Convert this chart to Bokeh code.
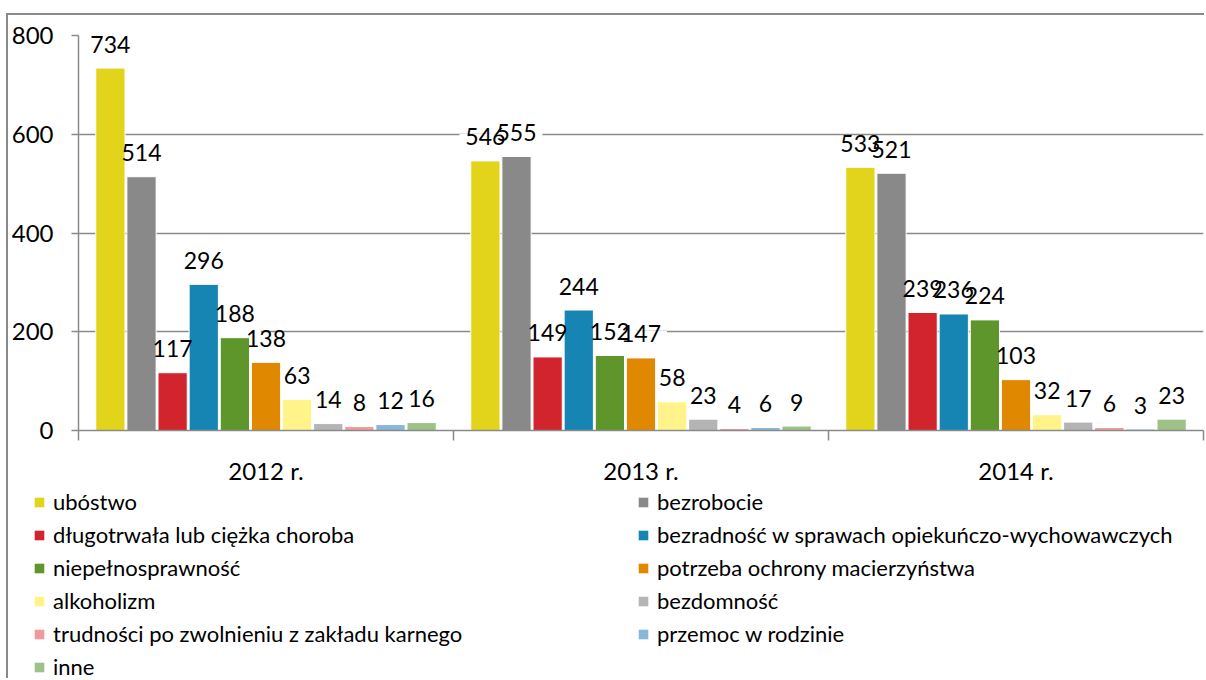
from bokeh.plotting import figure
from bokeh.layouts import column
from bokeh.models import (Range1d, FixedTicker, Legend, LegendItem, ColumnDataSource,
                          LabelSet)
from bokeh.core.properties import value
from bokeh.embed import file_html
from bokeh.resources import INLINE

# ---------------- data ----------------
years = ["2012 r.", "2013 r.", "2014 r."]
categories = [
    "ubóstwo",
    "bezrobocie",
    "długotrwała lub ciężka choroba",
    "bezradność w sprawach opiekuńczo-wychowawczych",
    "niepełnosprawność",
    "potrzeba ochrony macierzyństwa",
    "alkoholizm",
    "bezdomność",
    "trudności po zwolnieniu z zakładu karnego",
    "przemoc w rodzinie",
    "inne",
]
colors = ["#E1D41A", "#898989", "#D2242D", "#1785B4", "#5F962B", "#E08800",
          "#FFF38A", "#B4B4B4", "#F19A9C", "#88B7D9", "#9DC186"]
values_2012 = [734, 514, 117, 296, 188, 138, 63, 14, 8, 12, 16]
values_2013 = [546, 555, 149, 244, 152, 147, 58, 23, 4, 6, 9]
values_2014 = [533, 521, 239, 236, 224, 103, 32, 17, 6, 3, 23]
values_by_year = [values_2012, values_2013, values_2014]
y_ticks = [0, 200, 400, 600, 800]

# ---------------- style ----------------
FONT = "Lato"
FS = "24px"
LBL_FS = "23px"
LEG_FS = "22px"
GRID = "#8A8A8A"
PITCH = 0.083
BAR_W = 0.078
W = 1198
LABEL_OFF = 24      # text glyph offset (px)
BOX_OFF = 4         # label-box offset (px)

p = figure(width=W, height=472, output_backend="svg", toolbar_location=None,
           x_range=Range1d(0, 3), y_range=Range1d(0, 800),
           min_border_left=69, min_border_right=3, min_border_top=20,
           min_border_bottom=50, outline_line_color=None,
           background_fill_color="white", border_fill_color="white",
           frame_align=False)

# grid
p.xgrid.visible = False
p.ygrid.ticker = FixedTicker(ticks=y_ticks)
p.ygrid.grid_line_color = GRID
p.ygrid.grid_line_width = 1.5
p.ygrid.level = "image"

# y axis
p.yaxis.ticker = FixedTicker(ticks=y_ticks)
p.yaxis.axis_line_color = GRID
p.yaxis.axis_line_width = 1.5
p.yaxis.major_tick_line_color = GRID
p.yaxis.major_tick_line_width = 1.5
p.yaxis.major_tick_out = 7
p.yaxis.major_tick_in = 0
p.yaxis.minor_tick_line_color = None
p.yaxis.major_label_standoff = 18
p.yaxis.major_label_text_font = FONT
p.yaxis.major_label_text_font_size = FS
p.yaxis.major_label_text_color = "black"

# x axis: labels at group centres, ticks at group boundaries
p.xaxis.ticker = FixedTicker(ticks=[i + 0.5 for i in range(len(years))],
                             minor_ticks=list(range(len(years) + 1)))
p.xaxis.major_label_overrides = {i + 0.5: y for i, y in enumerate(years)}
p.xaxis.axis_line_color = GRID
p.xaxis.axis_line_width = 1.5
p.xaxis.major_tick_line_color = None
p.xaxis.major_tick_out = 0
p.xaxis.major_tick_in = 0
p.xaxis.minor_tick_line_color = GRID
p.xaxis.minor_tick_line_width = 1.5
p.xaxis.minor_tick_out = 10
p.xaxis.minor_tick_in = 0
p.xaxis.major_label_standoff = 15
p.xaxis.major_label_text_font = FONT
p.xaxis.major_label_text_font_size = FS
p.xaxis.major_label_text_color = "black"

# label source
lx, ly, lt, lpad = [], [], [], []
for i, vals in enumerate(values_by_year):
    for j, v in enumerate(vals):
        lx.append(i + 0.5 + (j - (len(vals) - 1) / 2) * PITCH)
        ly.append(v)
        lt.append(str(v))
        lpad.append(" " + str(v) + " ")
lsrc = ColumnDataSource(dict(x=lx, y=ly, t=lt, tp=lpad))

# white label boxes beneath the bars (they interrupt gridlines like the original)
p.add_layout(LabelSet(x="x", y="y", text="tp", source=lsrc, level="underlay",
                      text_align="center", text_baseline="alphabetic",
                      y_offset=BOX_OFF, text_color="white",
                      text_font=value(FONT), text_font_size=LBL_FS,
                      background_fill_color="white"))

# bars
for j, cat in enumerate(categories):
    xs = [i + 0.5 + (j - (len(categories) - 1) / 2) * PITCH for i in range(len(years))]
    tops = [vals[j] for vals in values_by_year]
    p.vbar(x=xs, top=tops, width=BAR_W, bottom=0, fill_color=colors[j],
           line_color="white", line_width=1)

# data labels
p.text(x="x", y="y", text="t", source=lsrc, text_align="center",
       text_baseline="alphabetic", y_offset=-LABEL_OFF, text_color="black",
       text_font=value(FONT), text_font_size=LBL_FS)

# ---------------- legend panel ----------------
pl = figure(width=W, height=193, output_backend="svg", toolbar_location=None,
            x_range=Range1d(0, 1), y_range=Range1d(0, 1), min_border=0,
            x_axis_location=None, y_axis_location=None,
            outline_line_color=None, background_fill_color="white",
            border_fill_color="white", frame_align=False)
pl.grid.visible = False
items = []
for j, cat in enumerate(categories):
    # zero-height proxy bar: only supplies the legend swatch colour
    r = pl.vbar(x=[0], top=[0], bottom=0, width=0.01, fill_color=colors[j],
                line_color=None)
    items.append(LegendItem(label=cat, renderers=[r]))

legend = Legend(items=items, location=(25, 0), orientation="horizontal", ncols=2,
                glyph_width=12, glyph_height=12, label_standoff=8, label_width=578,
                label_height=20, spacing=6, padding=0, margin=0,
                border_line_color=None, background_fill_alpha=0,
                label_text_font=FONT, label_text_font_size=LEG_FS,
                label_text_color="black")
pl.add_layout(legend)

# outer chart frame (left and top edges are inside the window)
layout = column(p, pl, spacing=0, margin=(15, 0, 0, 8),
                styles={"box-shadow": "-2px -2px 0 0 #8A8A8A",
                        "background-color": "white"})

open("out.html", "w").write(file_html(layout, INLINE))
